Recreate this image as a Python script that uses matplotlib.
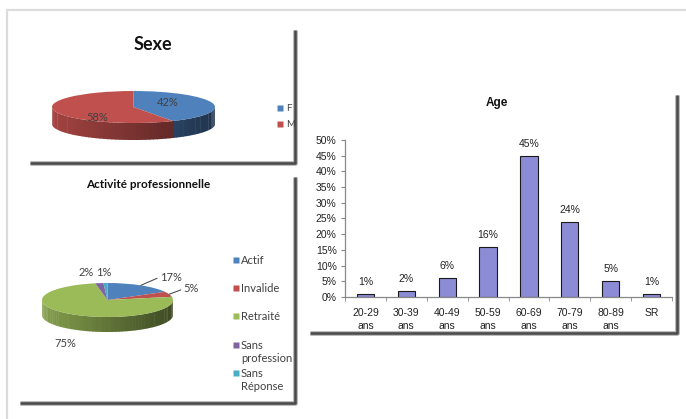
import matplotlib.pyplot as plt
import numpy as np
from matplotlib.colors import to_rgb
from matplotlib.patches import Polygon

# donnees
sexe_labels = ['F', 'M']
sexe_values = [42, 58]
sexe_colors = ['#4F81BD', '#C0504D']

activite_labels = ['Actif', 'Invalide', 'Retraité', 'Sans\nprofession', 'Sans\nRéponse']
activite_values = [17, 5, 75, 2, 1]
activite_colors = ['#4F81BD', '#C0504D', '#9BBB59', '#8064A2', '#4BACC6']

age_labels = ['20-29\nans', '30-39\nans', '40-49\nans', '50-59\nans',
              '60-69\nans', '70-79\nans', '80-89\nans', 'SR']
age_values = [1, 2, 6, 16, 45, 24, 5, 1]

W, H = 686, 419
PIE_FONT = ['Lato', 'DejaVu Sans']
BAR_FONT = ['Liberation Sans', 'DejaVu Sans']
GREY_TXT = '#404040'

fig = plt.figure(figsize=(W / 100, H / 100), dpi=100)
fig.patch.set_facecolor('white')


def px_axes(left, top, width, height, **kw):
    # axes placee en pixels (origine en haut a gauche)
    return fig.add_axes([left / W, 1 - (top + height) / H, width / W, height / H], **kw)


def pie3d(ax, values, colors, depth):
    wedges, _ = ax.pie(values, colors=colors, startangle=90, counterclock=False,
                       wedgeprops=dict(linewidth=0))
    ax.set_aspect('auto')
    # face laterale visible (moitie avant), ombree de gauche a droite
    for w, c in zip(wedges, colors):
        rgb = np.array(to_rgb(c))
        a, b = w.theta1, w.theta2
        for k in range(-2, 2):
            lo = max(a, 180 + 360 * k)
            hi = min(b, 360 + 360 * k)
            if hi <= lo:
                continue
            edges = np.linspace(lo, hi, max(2, int((hi - lo) / 3) + 2))
            for t0, t1 in zip(edges[:-1], edges[1:]):
                t = np.radians(np.linspace(t0, t1 + 0.6, 6))
                x, y = np.cos(t), np.sin(t)
                pts = np.concatenate([np.column_stack([x, y]),
                                      np.column_stack([x[::-1], y[::-1] - depth])])
                frac = (np.cos(np.radians((t0 + t1) / 2)) + 1) / 2  # 0 a gauche, 1 a droite
                shade = 0.85 - 0.45 * frac
                ax.add_patch(Polygon(pts, closed=True, facecolor=rgb * shade,
                                     edgecolor='none', zorder=0.5))
    ax.set_xlim(-1.25, 1.25)
    ax.set_ylim(-1.3 - depth, 1.3)
    ax.axis('off')
    return wedges


# ---- Sexe ----
rx1, ry1, d1 = 81.5, 16, 17
ax1 = px_axes(133.5 - 1.25 * rx1, 107 - 1.3 * ry1, 2.5 * rx1, (2.6 + d1 / ry1) * ry1)
pie3d(ax1, sexe_values, sexe_colors, d1 / ry1)
sexe_txt_pos = [(0.42, 0.31), (-0.45, -0.66)]
for v, (tx, ty) in zip(sexe_values, sexe_txt_pos):
    ax1.text(tx, ty, f'{v}%', ha='center', va='center', fontsize=8,
             color=GREY_TXT, family=PIE_FONT, zorder=5)

# ---- Activite professionnelle ----
rx2, ry2, d2 = 65.5, 17, 15
ax2 = px_axes(107.5 - 1.25 * rx2, 300 - 1.3 * ry2, 2.5 * rx2, (2.6 + d2 / ry2) * ry2)
wedges2 = pie3d(ax2, activite_values, activite_colors, d2 / ry2)
act_txt_pos = [(0.80, 1.35), (1.16, 0.65), (-0.65, -2.53), (-0.33, 1.59), (-0.05, 1.59)]
act_leader = [True, True, False, False, False]
for w, v, (tx, ty), lead in zip(wedges2, activite_values, act_txt_pos, act_leader):
    if lead:
        m = np.radians((w.theta1 + w.theta2) / 2)
        ax2.annotate(f'{v}%', xy=(np.cos(m), np.sin(m)), xytext=(tx, ty),
                     ha='left', va='center', fontsize=8, color=GREY_TXT, family=PIE_FONT,
                     arrowprops=dict(arrowstyle='-', color='#505050', lw=0.8,
                                     shrinkA=0, shrinkB=0, relpos=(0, 0.5)),
                     annotation_clip=False, zorder=5)
    else:
        ax2.text(tx, ty, f'{v}%', ha='center', va='center', fontsize=8,
                 color=GREY_TXT, family=PIE_FONT, zorder=5)

# ---- Age ----
ax3 = px_axes(345, 140, 327, 157)
x = np.arange(len(age_values))
bars = ax3.bar(x, age_values, width=0.42, color='#8C8CD6', edgecolor='#1a1a1a', linewidth=0.8)
ax3.bar_label(bars, labels=[f'{v}%' for v in age_values], padding=5, fontsize=7.5,
              family=BAR_FONT, color='#222222')
ax3.set_xlim(-0.5, len(age_values) - 0.5)
ax3.set_ylim(0, 50)
ax3.set_yticks(np.arange(0, 51, 5))
ax3.set_yticklabels([f'{v}%' for v in range(0, 51, 5)], family=BAR_FONT, fontsize=7.5)
ax3.set_xticks(x)
ax3.set_xticklabels(age_labels, family=BAR_FONT, fontsize=7.5, linespacing=1.35)
ax3.set_xticks(np.arange(-0.5, len(age_values)), minor=True)
ax3.tick_params(axis='x', which='major', length=0, pad=8, colors='#222222')
ax3.tick_params(axis='x', which='minor', length=3, direction='out', color='#888888')
ax3.tick_params(axis='y', length=3, direction='out', color='#888888', pad=3, labelcolor='#222222')
for s in ['top', 'right']:
    ax3.spines[s].set_visible(False)
for s in ['left', 'bottom']:
    ax3.spines[s].set_color('#888888')
    ax3.spines[s].set_linewidth(0.9)

# ---- calque de decor : cadres, ombres, titres, legendes ----
ov = fig.add_axes([0, 0, 1, 1], zorder=10)
ov.set_xlim(0, W)
ov.set_ylim(H, 0)
ov.axis('off')
ov.patch.set_alpha(0)

# cadre exterieur
ov.plot([7, 7, W], [H, 10, 10], color='#dcdcdc', lw=1.6, solid_joinstyle='miter')

# ombres des panneaux
panels = [(30, 30, 295, 163), (20, 177, 295, 403), (310, 95, 677, 333)]
for l, t, r, b in panels:
    ov.plot([l, r, r], [b, b, t], color='#b0b0b0', lw=3.4, solid_capstyle='butt')
    ov.plot([l, r, r], [b, b, t], color='#4a4a4a', lw=1.8, solid_capstyle='butt')

ov.text(153, 44, 'Sexe', ha='center', va='center', fontsize=13, fontweight='bold',
        family=PIE_FONT, color='#111111')
ov.text(148, 184, 'Activité professionnelle', ha='center', va='center', fontsize=8.5,
        fontweight='bold', family=PIE_FONT, color='#111111')
ov.text(497, 103, 'Age', ha='center', va='center', fontsize=8.5, fontweight='bold',
        family=BAR_FONT, color='#111111')

# legendes
sexe_leg_y = [108, 124]
for lab, col, y in zip(sexe_labels, sexe_colors, sexe_leg_y):
    ov.plot(280, y, marker='s', ms=4.2, color=col, mec='none')
    ov.text(286, y, lab, ha='left', va='center', fontsize=7, family=PIE_FONT, color=GREY_TXT)

act_leg_y = [260, 288, 316, 352, 380]
for lab, col, y in zip(activite_labels, activite_colors, act_leg_y):
    ov.plot(236, y - (7 if '\n' in lab else 0), marker='s', ms=4.5, color=col, mec='none')
    ov.text(241, y, lab, ha='left', va='center', fontsize=8, family=PIE_FONT,
            color=GREY_TXT, linespacing=1.3)

fig.savefig('out.png', dpi=100)
